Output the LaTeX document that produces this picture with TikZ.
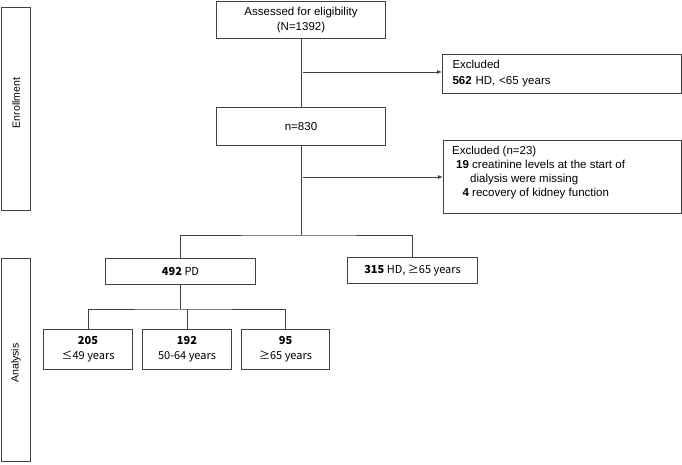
\documentclass[tikz,border=0pt]{standalone}
\usepackage{fontspec}
\setmainfont{Liberation Sans}
\newfontfamily\kfont{Noto Sans CJK KR}
\usetikzlibrary{arrows.meta}
\begin{document}
\begin{tikzpicture}[x=1pt,y=-1pt,
  every node/.style={font=\fontsize{11.5}{15}\selectfont},
  box/.style={draw=black!75,line width=1pt,inner sep=0pt,anchor=north west},
  kbox/.style={box,font=\kfont\fontsize{11}{15}\selectfont,align=center},
  side/.style={draw=black!75,line width=1pt,inner sep=0pt,anchor=north west},
  sidetext/.style={rotate=90,font=\fontsize{10.5}{12}\selectfont},
  link/.style={draw=black!75,line width=0.9pt},
  arr/.style={link,-{Latex[length=5pt,width=4pt]}}
]
\useasboundingbox (0,0) rectangle (682,464);
% side bars
\node[side,minimum width=29.5pt,minimum height=203pt] (enr) at (0.8,7) {};
\node[sidetext] (enrt) at (16,103) {Enrollment};
\node[side,minimum width=29.5pt,minimum height=203pt] (ana) at (0.8,258) {};
\node[sidetext] (anat) at (16,363) {Analysis};
% main column
\node[box,minimum width=169pt,minimum height=37.5pt,align=center] (assess) at (216,0.8) {Assessed for eligibility\\(N=1392)};
\node[box,minimum width=169pt,minimum height=38pt] (n830) at (216,107) {n=830};
% excluded boxes
\node[box,minimum width=239pt,minimum height=39pt,align=left,text width=219pt,inner xsep=10pt,font=\fontsize{11.5}{16}\selectfont] (exc1) at (442,54) {Excluded\\\textbf{562} HD, {<}65 years};
\node[box,minimum width=238pt,minimum height=73pt] (exc2) at (443,140) {};
\node[anchor=north west,inner sep=0pt,align=left,font=\fontsize{11.5}{14.3}\selectfont] (exc2t) at (452,145.5) {Excluded (n=23)\\
\hspace*{4pt}\textbf{19} creatinine levels at the start of\\
\hspace*{18pt}dialysis were missing\\
\hspace*{10.4pt}\textbf{4} recovery of kidney function};
% analysis boxes
\node[kbox,minimum width=150pt,minimum height=26pt] (pd) at (105,258) {\textbf{492} PD};
\node[kbox,minimum width=130pt,minimum height=26pt] (hd) at (347,257) {\textbf{315} HD, ≥65 years};
\node[kbox,minimum width=89pt,minimum height=40pt] (a1) at (43,329) {\textbf{205}\\≤49 years};
\node[kbox,minimum width=89pt,minimum height=40pt] (a2) at (142,329) {\textbf{192}\\50-64 years};
\node[kbox,minimum width=88pt,minimum height=40pt] (a3) at (241,329) {\textbf{95}\\≥65 years};
% connectors
\coordinate (c1) at (303,72);
\coordinate (c2) at (303,177);
\coordinate (b1) at (301,235);
\coordinate (b2) at (180.5,309);
\draw[link] (assess.south) -- (n830.north);
\draw[arr] (c1) -- (c1 -| exc1.west);
\draw[arr] (c2) -- (c2 -| exc2.west);
\draw[link] (n830.south) -- (b1);
\draw[link] (pd.north) |- (b1) -| (hd.north);
\draw[link] (pd.south) -- (b2);
\draw[link] (a1.north) |- (b2) -| (a3.north);
\draw[link] (b2 -| a2.north) -- (a2.north);
\end{tikzpicture}
\end{document}
